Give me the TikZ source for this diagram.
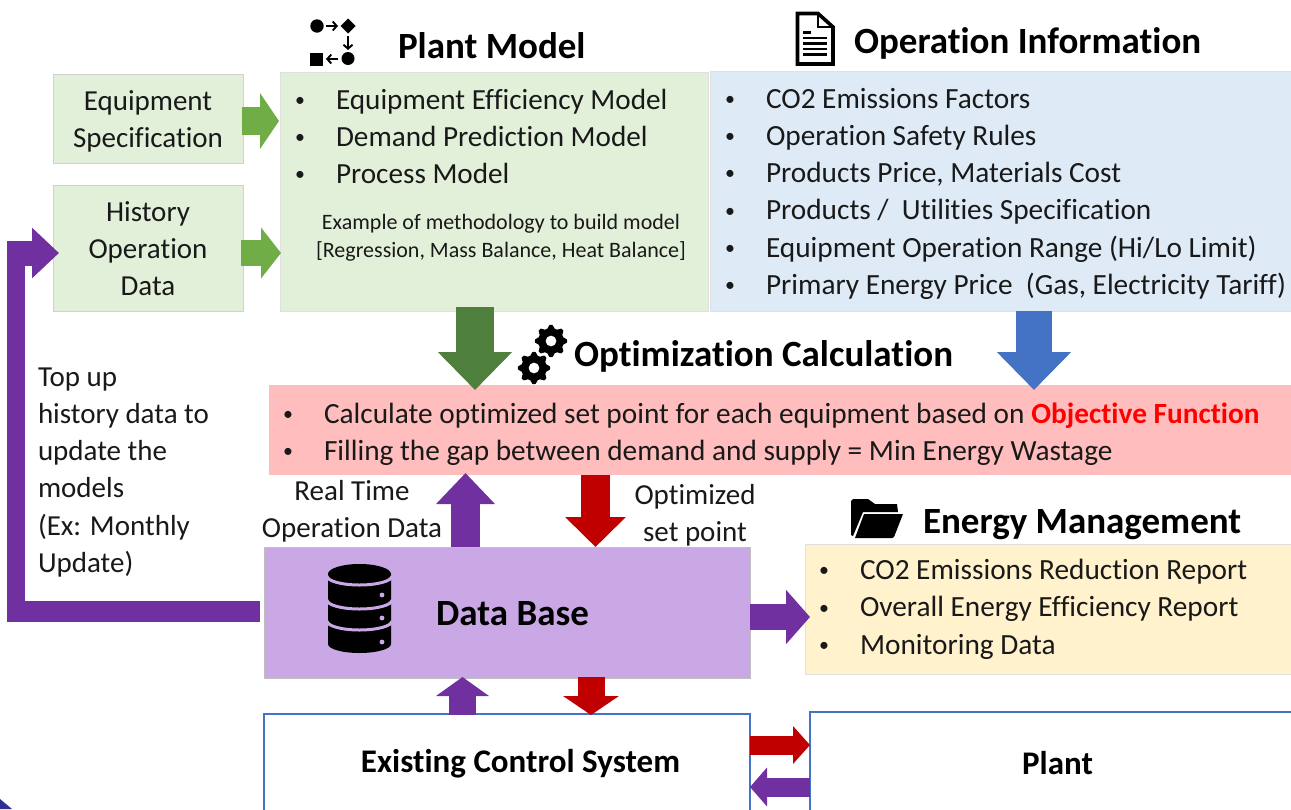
\documentclass[tikz,border=0pt]{standalone}
\usepackage{fontspec}
\setmainfont{Carlito}[Ligatures=CommonOff]
\usetikzlibrary{arrows.meta,calc}
\definecolor{gfill}{HTML}{E2F0D9}
\definecolor{bfill}{HTML}{DEEBF7}
\definecolor{rfill}{HTML}{FFBDBD}
\definecolor{pfill}{HTML}{CAA8E5}
\definecolor{yfill}{HTML}{FFF2CC}
\definecolor{apurple}{HTML}{7030A0}
\definecolor{ared}{HTML}{C00000}
\definecolor{lgreen}{HTML}{70AD47}
\definecolor{dgreen}{HTML}{4F7F3C}
\definecolor{ablue}{HTML}{4472C4}
\definecolor{cornerblue}{HTML}{2E3192}
\newcommand{\fs}[1]{\fontsize{#1}{37.1}\selectfont}
\newcommand{\bitem}[1]{\makebox[#1][l]{\raisebox{.1em}{\scalebox{.68}{•}}}}
\tikzset{
  x=1pt,y=-1pt,
  box/.style={rectangle,inner sep=0pt,outer sep=0pt,minimum width=#1},
  labeltext/.style={inner sep=0pt,outer sep=0pt,font=\fs{29.3},align=left,text=black!90},
  ctext/.style={inner sep=0pt,outer sep=0pt,font=\fs{29},align=center,text=black!90},
  titletext/.style={inner sep=0pt,outer sep=0pt,font=\fs{37}\bfseries,text=black},
  block/.style n args={3}{line width=#1pt,-{Triangle[length=#2pt,width=#3pt]}},
  iconarrow/.style={black,line width=1.9pt,-{Straight Barb[length=4pt,width=9pt,line width=1.9pt]}},
}
\begin{document}
\begin{tikzpicture}
\path[use as bounding box,clip] (0,0) rectangle (1291,809);
\fill[white] (0,0) rectangle (1291,809);
\fill[cornerblue] (0,799) -- (12,809) -- (0,809) -- cycle;

% boxes
\node[box=190pt,minimum height=89pt,fill=gfill,draw=black!18,line width=.7pt] (spec) at (148,118.5) {};
\node[box=190pt,minimum height=126pt,fill=gfill,draw=black!18,line width=.7pt] (hist) at (148,248) {};
\node[box=428pt,minimum height=239pt,fill=gfill,draw=black!12,line width=.7pt] (plantbox) at (494,191.5) {};
\node[box=581pt,minimum height=240pt,fill=bfill,draw=black!12,line width=.7pt] (opbox) at (1000.5,191) {};
\node[box=1022pt,minimum height=90pt,fill=rfill] (optbox) at (780,430) {};
\node[box=486pt,minimum height=131pt,fill=pfill,draw=black!25,line width=.7pt] (db) at (507,612.5) {};
\node[box=486pt,minimum height=130pt,fill=yfill,draw=black!12,line width=.7pt] (energy) at (1048,609) {};
\node[box=486pt,minimum height=116pt,draw=ablue,line width=1.4pt] (ctl) at (507,772) {};
\node[box=590pt,minimum height=118pt,draw=ablue,line width=1.4pt] (plantsys) at (1105,771) {};

% texts in boxes
\node[ctext,yshift=-2.5pt] (spectext) at (spec) {Equipment\\Specification};
\node[ctext,yshift=-.5pt] (histtext) at (hist) {History\\Operation\\Data};
\node[labeltext,font=\fs{29.2},anchor=north west] (plantlist) at (295,89) {\bitem{41pt}Equipment Efficiency Model\\\bitem{41pt}Demand Prediction Model\\\bitem{41pt}Process Model};
\node[inner sep=0pt,font=\fontsize{22}{28}\selectfont,align=center,text=black!90] (method) at (501,238) {Example of methodology to build model\\{}[Regression, Mass Balance, Heat Balance]};
\node[labeltext,anchor=north west] (oplist) at (725,88.5) {\bitem{41pt}CO2 Emissions Factors\\\bitem{41pt}Operation Safety Rules\\\bitem{41pt}Products Price, Materials Cost\\\bitem{41pt}Products /\ \ Utilities Specification\\\bitem{41pt}Equipment Operation Range (Hi/Lo Limit)\\\bitem{41pt}Primary Energy Price\ \ (Gas, Electricity Tariff)};
\node[labeltext,anchor=north west] (optlist) at (283,403) {\bitem{41pt}Calculate optimized set point for each equipment based on {\bfseries\color{red}Objective Function}\\\bitem{41pt}Filling the gap between demand and supply = Min Energy Wastage};
\node[labeltext,anchor=north west] (enlist) at (819,559.5) {\bitem{41pt}CO2 Emissions Reduction Report\\\bitem{41pt}Overall Energy Efficiency Report\\\bitem{41pt}Monitoring Data};

% titles
\node[titletext,anchor=west] (t1) at (398,46) {Plant Model};
\node[titletext,anchor=west] (t2) at (854,43) {Operation Information};
\node[titletext,anchor=west] (t3) at (574,356) {Optimization Calculation};
\node[titletext,anchor=west] (t4) at (923,525) {Energy Management};
\node[titletext,anchor=center] (dbt) at (512.5,614) {Data Base};
\node[inner sep=0pt,font=\fs{33}\bfseries] (ctlt) at (520.5,764) {Existing Control System};
\node[inner sep=0pt,font=\fs{33}\bfseries] (plt) at (1057.5,763) {Plant};

% free labels
\node[labeltext,font=\fs{29},anchor=north west] (topup) at (38,368) {Top up\\history data to\\update the\\models\\(Ex: Monthly\\Update)};
\node[ctext] (rt) at (352,511) {Real Time\\Operation Data};
\node[ctext] (os) at (695,515) {Optimized\\set point};

% arrows
\draw[lgreen,block={28}{19}{55}] ([yshift=-2.5pt,xshift=-1pt]spec.east) -- ([yshift=-2.5pt,xshift=-1pt]plantbox.west |- spec.east);
\draw[lgreen,block={26}{20}{50}] ([yshift=-5pt,xshift=-2pt]hist.east) -- ([yshift=-5pt,xshift=1pt]plantbox.west |- hist.east);
\draw[dgreen,block={38}{38}{72}] ([xshift=-19pt,yshift=4pt]plantbox.south) -- ([xshift=-305pt,yshift=-5pt]optbox.north);
\draw[ablue,block={36}{38}{72}] ([xshift=33.5pt]opbox.south) -- ([xshift=254pt,yshift=-5pt]optbox.north);
\draw[apurple,block={29}{31}{57}] ([xshift=-41.5pt]db.north) -- ([xshift=-314.5pt,yshift=2pt]optbox.south);
\draw[ared,block={29}{30}{59}] ([xshift=-184.5pt]optbox.south) -- ([xshift=88.5pt]db.north);
\draw[apurple,block={27}{19}{52}] ([xshift=-44.5pt,yshift=-1pt]ctl.north) -- ([xshift=-44.5pt,yshift=1pt]db.south);
\draw[ared,block={27}{19}{55}] ([xshift=84pt,yshift=1pt]db.south) -- ([xshift=84pt,yshift=-1pt]ctl.north);
\draw[apurple,block={26}{24}{53}] ([yshift=-4.5pt]db.east) -- ([xshift=5pt,yshift=-8pt]energy.west);
\draw[ared,block={19}{17}{37}] ([yshift=27pt]ctl.east) -- ([yshift=26pt]plantsys.west);
\draw[apurple,block={19}{17}{38}] ([yshift=-16pt]plantsys.west) -- ([yshift=-15pt]ctl.east);

% feedback arrow
\coordinate (lb) at (16,611.5);
\coordinate (lt) at (16,253);
\draw[apurple,line width=17.5pt,shorten <=-10.5pt,shorten >=-.5pt] (lb) -- (lt);
\draw[apurple,line width=21pt,shorten >=-9pt] ([xshift=-4pt,yshift=1pt]db.west) -- (lb);
\draw[apurple,block={25}{27}{49},shorten <=-9pt] (lt) -- ([xshift=6pt,yshift=-5pt]hist.west);

% plant icon
\fill[black] (317,26) circle (6.7);
\fill[black] (348,18.5) -- (355.5,26) -- (348,33.5) -- (340.5,26) -- cycle;
\fill[black] (348,58.5) circle (6.5);
\fill[black] (310,53) rectangle (323,66);
\draw[iconarrow] (326,26) -- (338,26);
\draw[iconarrow] (348,36) -- (348,50);
\draw[iconarrow] (338,59) -- (326,59);

% document icon
\draw[black,line width=3.6pt,fill=white,line join=miter] (797.5,13.5) -- (818,13.5) -- (833,27) -- (833,64) -- (797.5,64) -- cycle;
\draw[black,line width=2.6pt] (818,13.5) -- (818,27) -- (833,27);
\draw[black,line width=2.4pt] (803,32.5) -- (811,32.5) (803,38) -- (827,38) (803,43.5) -- (827,43.5) (803,49) -- (827,49) (803,54.5) -- (827,54.5);

% gears
\foreach \cx/\cy in {551/341,534/368}{
  \fill[black,even odd rule]
    plot[smooth cycle,tension=.25,samples at={0,...,31},variable=\k]
      ({\cx+(mod(\k,4)<2 ? 16 : 12.8)*cos(\k*11.25-5.6)},{\cy+(mod(\k,4)<2 ? 16 : 12.8)*sin(\k*11.25-5.6)})
    (\cx,\cy) circle (5.5);
}

% database icon
\fill[black] (328,574) arc[start angle=180,end angle=360,x radius=31.5,y radius=10] -- (391,644) arc[start angle=0,end angle=180,x radius=31.5,y radius=9] -- cycle;
\foreach \yy in {576,600,621}{
  \draw[pfill,line width=3pt] (327,\yy) arc[start angle=180,end angle=0,x radius=32.5,y radius=9];
}
\foreach \yy in {595,618,642}{ \fill[pfill] (382,\yy) circle (2.4); }

% folder icon
\fill[black] (853,499) -- (868,499) -- (875,504) -- (897,504) -- (898,512) -- (863,512) -- (853,536) -- (851,535) -- (851,501) -- cycle;
\fill[black] (864,514) -- (903,514) -- (894,537) -- (892,538) -- (855,538) -- cycle;
\end{tikzpicture}
\end{document}
